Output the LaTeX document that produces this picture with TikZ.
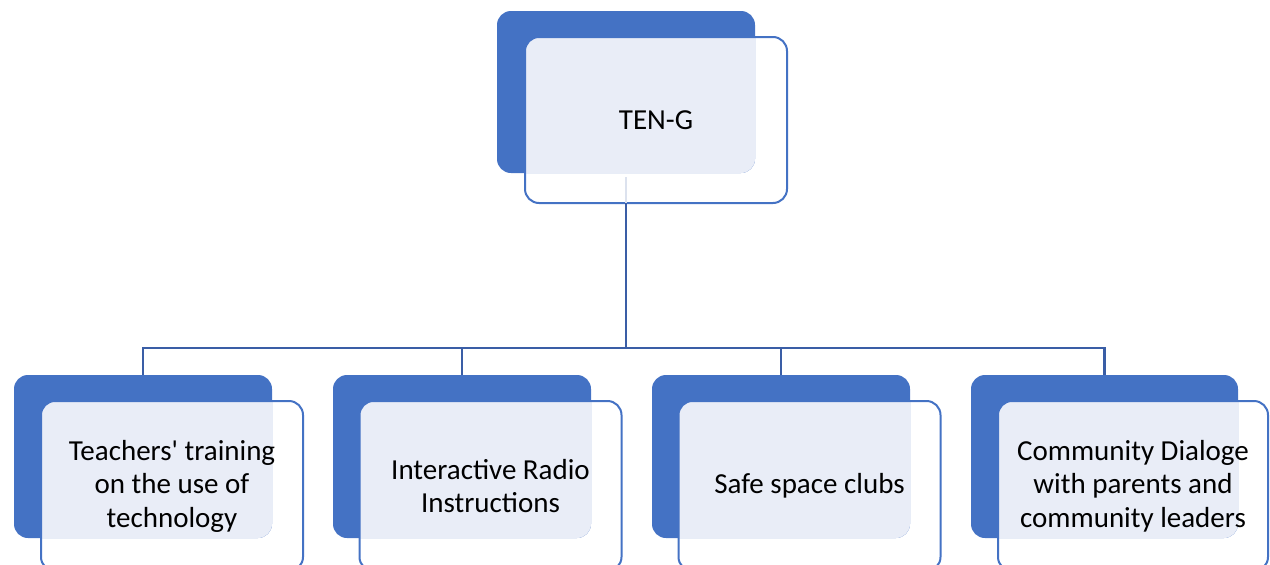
\documentclass[tikz,border=0pt]{standalone}
\usepackage{fontspec}
\setmainfont{Carlito}
\definecolor{accent}{HTML}{4472C4}
\definecolor{lightfill}{HTML}{E9EDF7}
\definecolor{connc}{HTML}{3A5EA6}
\definecolor{connlight}{HTML}{DCE2EE}
\tikzset{
  darkbox/.style={fill=accent, draw=none, rounded corners=14pt, outer sep=0pt, inner sep=0pt},
  outbox/.style={draw=accent, line width=2pt, rounded corners=14pt, outer sep=0pt, inner sep=0pt,
    align=center, font=\fontsize{29}{33.5}\selectfont, text=black},
  conn/.style={draw=connc, line width=2.5pt},
  connl/.style={draw=connlight, line width=2.5pt},
}
\begin{document}
\begin{tikzpicture}[x=1pt,y=-1pt]
\useasboundingbox (0,0) rectangle (1270,565);
% dark boxes
\node[darkbox, minimum width=258pt, minimum height=162pt] (d0) at (626,92) {};
\node[darkbox, minimum width=258pt, minimum height=163pt] (d1) at (143,456.5) {};
\node[darkbox, minimum width=258pt, minimum height=163pt] (d2) at (462,456.5) {};
\node[darkbox, minimum width=258pt, minimum height=163pt] (d3) at (781,456.5) {};
\node[darkbox, minimum width=267pt, minimum height=163pt] (d4) at (1104.5,456.5) {};
% light overlap fills
\foreach \i/\cx/\cy/\w/\h/\dx/\dy/\dw/\dh in {0/656/120/262/166/626/92/258/162,
  1/172/486/262/170/143/456.5/258/163, 2/490.5/486/262/170/462/456.5/258/163,
  3/809.5/486/262/170/781/456.5/258/163, 4/1133/486/270/170/1104.5/456.5/267/163}{
  \begin{scope}
    \clip[rounded corners=14pt] (\cx-\w/2,\cy-\h/2) rectangle (\cx+\w/2,\cy+\h/2);
    \fill[lightfill, rounded corners=14pt] (\dx-\dw/2,\dy-\dh/2) rectangle (\dx+\dw/2,\dy+\dh/2);
  \end{scope}
}
% outlined boxes with text
\node[outbox, minimum width=262pt, minimum height=166pt] (o0) at (656,120) {TEN-G};
\node[outbox, minimum width=262pt, minimum height=170pt] (o1) at (172,486) {Teachers\textquotesingle{} training\\on the use of\\technology};
\node[outbox, minimum width=262pt, minimum height=170pt] (o2) at (490.5,486) {Interactive Radio\\Instructions};
\node[outbox, minimum width=262pt, minimum height=170pt] (o3) at (809.5,486) {Safe space clubs};
\node[outbox, minimum width=270pt, minimum height=170pt] (o4) at (1133,486) {Community Dialoge\\with parents and\\community leaders};
% connectors
\coordinate (bus) at (626,348);
\coordinate (lt) at (626,177);
\draw[connl] (lt) -- (lt |- o0.south);
\draw[conn] (lt |- o0.south) -- (bus);
\draw[conn] (bus) -| (d1.north);
\draw[conn] (bus) -| (d2.north);
\draw[conn] (bus) -| (d3.north);
\draw[conn] (bus) -| (d4.north);
\end{tikzpicture}
\end{document}
